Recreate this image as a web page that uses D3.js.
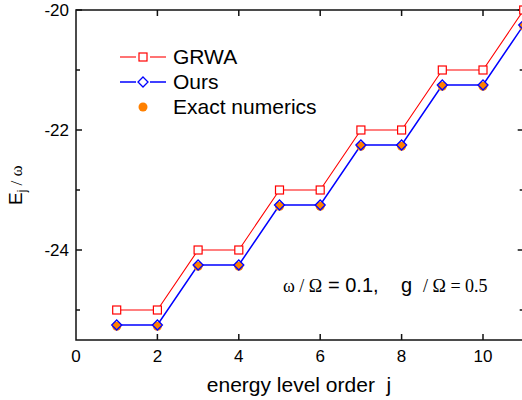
<!DOCTYPE html>
<html><head><meta charset="utf-8">
<script src="https://cdn.jsdelivr.net/npm/d3@7"></script>
<style>body{margin:0;background:#fff}svg{display:block}</style>
</head><body><svg id="c" width="522" height="400" font-family="Arial, 'Liberation Sans', sans-serif"></svg>
<script>
const levels = [1,2,3,4,5,6,7,8,9,10,11];
const grwa = [-25,-25,-24,-24,-23,-23,-22,-22,-21,-21,-20];
const ours = [-25.25,-25.25,-24.25,-24.25,-23.25,-23.25,-22.25,-22.25,-21.25,-21.25,-20.25];
const exact = [-25.27,-25.27,-24.27,-24.27,-23.27,-23.27,-22.27,-22.27,-21.27,-21.27,-20.27];
const xTicks = [0,2,4,6,8,10];
const yTicks = [-24,-22,-20];
const yMinor = [-25,-23,-21];
const legendLabels = ["GRWA","Ours","Exact numerics"];

const serif="'Times New Roman', 'Liberation Serif', serif";
const svg = d3.select("#c");
const x = d3.scaleLinear().domain([0,11]).range([76,523.7]);
const y = d3.scaleLinear().domain([-25.5,-20]).range([340,10]);
const X0=76,X1=523.7,Y0=340,Y1=10;

// frame
const ax = svg.append("g").attr("stroke","#111").attr("stroke-width",1.5);
ax.append("rect").attr("x",X0).attr("y",Y1).attr("width",X1-X0).attr("height",Y0-Y1).attr("fill","none");
xTicks.filter(d=>d>0).forEach(d=>{
  ax.append("line").attr("x1",x(d)).attr("x2",x(d)).attr("y1",Y0).attr("y2",Y0-6);
  ax.append("line").attr("x1",x(d)).attr("x2",x(d)).attr("y1",Y1).attr("y2",Y1+6);
});
yTicks.forEach(d=>{
  ax.append("line").attr("x1",X0).attr("x2",X0+6).attr("y1",y(d)).attr("y2",y(d));
  ax.append("line").attr("x1",X1).attr("x2",X1-6).attr("y1",y(d)).attr("y2",y(d));
});
yMinor.forEach(d=>{
  ax.append("line").attr("x1",X0).attr("x2",X0+4).attr("y1",y(d)).attr("y2",y(d));
  ax.append("line").attr("x1",X1).attr("x2",X1-4).attr("y1",y(d)).attr("y2",y(d));
});
svg.selectAll(".xl").data(xTicks).enter().append("text")
  .attr("x",d=>x(d)).attr("y",362).attr("text-anchor","middle").attr("font-size",17).text(d=>d);
svg.selectAll(".yl").data(yTicks).enter().append("text")
  .attr("x",69).attr("y",d=>y(d)+6).attr("text-anchor","end").attr("font-size",17).text(d=>d);

// axis titles
svg.append("text").attr("x",299).attr("y",392).attr("text-anchor","middle").attr("font-size",21)
  .attr("xml:space","preserve").text("energy level order  j");
const yt = svg.append("text").attr("transform","translate(22,205) rotate(-90)").attr("font-size",19);
yt.append("tspan").text("E");
yt.append("tspan").attr("font-size",12).attr("dy",4).text("j");
yt.append("tspan").attr("dy",-4).attr("font-size",17).style("font-family",serif).attr("xml:space","preserve").text(" / ω");

// data
const line = d3.line().x((d,i)=>x(levels[i])).y(d=>y(d));
svg.append("path").datum(grwa).attr("d",line).attr("fill","none").attr("stroke","#ff0000").attr("stroke-width",1.1);
svg.append("path").datum(ours).attr("d",line).attr("fill","none").attr("stroke","#0000ff").attr("stroke-width",1.5);
svg.selectAll(".ex").data(exact).enter().append("circle")
  .attr("cx",(d,i)=>x(levels[i])).attr("cy",d=>y(d)).attr("r",4.5).attr("fill","#ff8000");
svg.selectAll(".sq").data(grwa).enter().append("rect")
  .attr("x",(d,i)=>x(levels[i])-4).attr("y",d=>y(d)-4).attr("width",8).attr("height",8)
  .attr("fill","#fff").attr("stroke","#ff0000").attr("stroke-width",1.2);
svg.selectAll(".di").data(ours).enter().append("path")
  .attr("d",(d,i)=>{const cx=x(levels[i]),cy=y(d);return `M${cx},${cy-5}L${cx+5},${cy}L${cx},${cy+5}L${cx-5},${cy}Z`;})
  .attr("fill","none").attr("stroke","#0000ff").attr("stroke-width",1.3);

// legend
const lg = svg.append("g");
const ly=[57,82,107];
[[120,136],[150,166]].forEach(([a,b])=>{
  lg.append("line").attr("x1",a).attr("x2",b).attr("y1",ly[0]).attr("y2",ly[0]).attr("stroke","#ff0000").attr("stroke-width",1.1);
  lg.append("line").attr("x1",a).attr("x2",b).attr("y1",ly[1]).attr("y2",ly[1]).attr("stroke","#0000ff").attr("stroke-width",1.5);
});
lg.append("rect").attr("x",139).attr("y",ly[0]-4).attr("width",8).attr("height",8).attr("fill","#fff").attr("stroke","#ff0000").attr("stroke-width",1.2);
lg.append("path").attr("d",`M143,${ly[1]-5}L148,${ly[1]}L143,${ly[1]+5}L138,${ly[1]}Z`).attr("fill","#fff").attr("stroke","#0000ff").attr("stroke-width",1.3);
lg.append("circle").attr("cx",143).attr("cy",ly[2]).attr("r",4.5).attr("fill","#ff8000");
lg.selectAll(".lt").data(legendLabels).enter().append("text")
  .attr("x",173).attr("y",(d,i)=>ly[i]+7).attr("font-size",21).text(d=>d);

// annotation
const ann = svg.append("g");
ann.append("text").attr("x",283).attr("y",292).style("font-family",serif).attr("font-size",18).text("ω / Ω");
ann.append("text").attr("x",328).attr("y",292).attr("font-size",20).text("= 0.1,");
ann.append("text").attr("x",401).attr("y",292).attr("font-size",20).text("g");
ann.append("text").attr("x",423).attr("y",292).style("font-family",serif).attr("font-size",18).text("/ Ω = 0.5");
</script></body></html>
